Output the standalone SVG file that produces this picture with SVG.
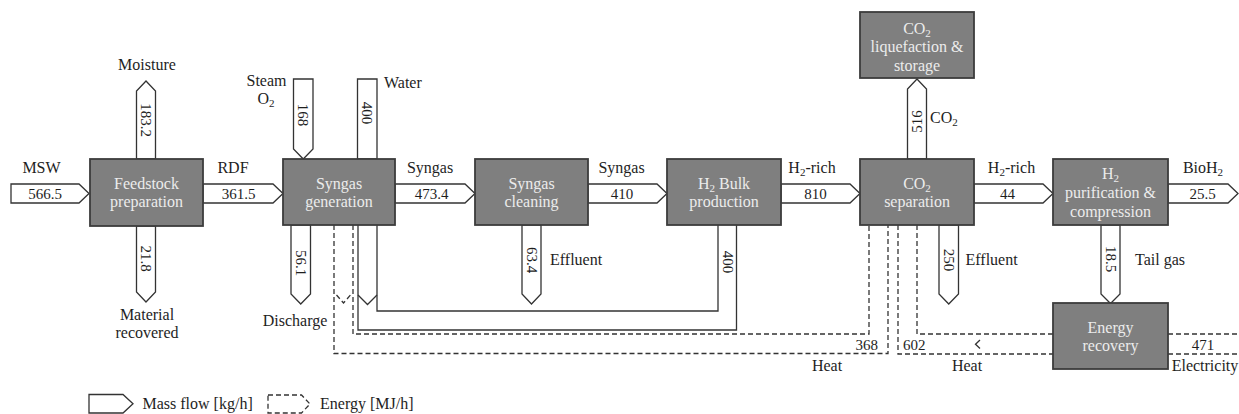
<svg xmlns="http://www.w3.org/2000/svg" width="1239" height="414" viewBox="0 0 1239 414">
<style>
text{font-family:"Liberation Serif","Times New Roman",serif;fill:#1e1e1e}
.lb{font-size:16px}
.nm{font-size:15px}
.bx rect{fill:#7f7f7f;stroke:#3c3c3c;stroke-width:1.8}
.bx text{font-size:16px;fill:#ececec;text-anchor:middle}
.m{text-anchor:middle}
.ar{fill:#fff;stroke:#333;stroke-width:1.3;stroke-linejoin:miter}
.ln{fill:none;stroke:#333;stroke-width:1.3}
.ds{fill:none;stroke:#333;stroke-width:1.3;stroke-dasharray:5 3}
.sub{font-size:11px}
</style>
<rect width="1239" height="414" fill="#fff"/>
<g id="connectors">
<!-- horizontal mass flows -->
<polygon class="ar" points="11,184 79,184 89,193.5 79,203 11,203"/>
<polygon class="ar" points="203,184 273,184 283,193.5 273,203 203,203"/>
<polygon class="ar" points="395,184 465,184 475,193.5 465,203 395,203"/>
<polygon class="ar" points="588,184 657,184 667,193.5 657,203 588,203"/>
<polygon class="ar" points="781,184 850,184 860,193.5 850,203 781,203"/>
<polygon class="ar" points="974,184 1043,184 1053,193.5 1043,203 974,203"/>
<polygon class="ar" points="1168,184 1228,184 1238,193.5 1228,203 1168,203"/>
<!-- vertical mass flows -->
<polygon class="ar" points="136.5,159 136.5,91 146,81 155.5,91 155.5,159"/>
<polygon class="ar" points="136.5,226 136.5,292 146,302 155.5,292 155.5,226"/>
<polygon class="ar" points="293.5,79 313,79 313,149 303.25,159 293.5,149"/>
<polygon class="ar" points="357.5,79 377,79 377,159 357.5,159"/>
<polygon class="ar" points="291,225 310.5,225 310.5,294 300.75,304 291,294"/>
<polygon class="ar" points="522,225 541,225 541,294 531.5,304 522,294"/>
<polygon class="ar" points="939,225 958.5,225 958.5,294 948.75,304 939,294"/>
<polygon class="ar" points="1101,225 1120,225 1120,294 1110.5,303.5 1101,294"/>
<polygon class="ar" points="907.5,159 907.5,89 917,79 926.5,89 926.5,159"/>
<!-- water recycle loop -->
<path class="ln" d="M358,225 V330 H736.5 V225"/>
<path class="ln" d="M377,225 V311 H718 V225"/>
<path class="ln" d="M358,295 L367.5,304.5 L377,295"/>
<!-- heat loops -->
<path class="ds" d="M334,225 V353.5 H888 V225"/>
<path class="ds" d="M353,225 V334 H869 V225"/>
<path class="ds" d="M336.5,295 L343.5,303 L350.5,295"/>
<path class="ds" d="M898,225 V354 H1053"/>
<path class="ds" d="M917,225 V334 H1053"/>
<path class="ln" d="M980,340 L975.5,344.2 L980,348.5" stroke-width="1.1"/>
<path class="ds" d="M1168,334 H1239 M1168,354 H1239"/>
</g>
<g id="flow-labels">
<text class="lb m" x="41.5" y="173">MSW</text>
<text class="nm m" x="45" y="198.5">566.5</text>
<text class="lb m" x="233" y="173">RDF</text>
<text class="nm m" x="238.5" y="198.5">361.5</text>
<text class="lb m" x="430" y="173">Syngas</text>
<text class="nm m" x="431.5" y="198.5">473.4</text>
<text class="lb m" x="621.5" y="173">Syngas</text>
<text class="nm m" x="622" y="198.5">410</text>
<text class="lb m" x="812" y="173">H<tspan class="sub" dy="3">2</tspan><tspan dy="-3">-rich</tspan></text>
<text class="nm m" x="815.5" y="198.5">810</text>
<text class="lb m" x="1011.5" y="173">H<tspan class="sub" dy="3">2</tspan><tspan dy="-3">-rich</tspan></text>
<text class="nm m" x="1007.5" y="198.5">44</text>
<text class="lb m" x="1203" y="173">BioH<tspan class="sub" dy="3">2</tspan></text>
<text class="nm m" x="1202.5" y="198.5">25.5</text>
<text class="lb m" x="147" y="70">Moisture</text>
<text class="lb m" x="147" y="320">Material</text>
<text class="lb m" x="147" y="338">recovered</text>
<text class="lb m" x="266.5" y="86">Steam</text>
<text class="lb m" x="266" y="104">O<tspan class="sub" dy="3">2</tspan></text>
<text class="lb" x="384" y="88">Water</text>
<text class="lb m" x="295" y="326">Discharge</text>
<text class="lb" x="550" y="265">Effluent</text>
<text class="lb" x="965.5" y="265">Effluent</text>
<text class="lb" x="1135" y="265">Tail gas</text>
<text class="lb" x="930" y="123">CO<tspan class="sub" dy="3">2</tspan></text>
<text class="nm" x="878" y="349.5" text-anchor="end">368</text>
<text class="lb m" x="827" y="371">Heat</text>
<text class="nm" x="903" y="349.5">602</text>
<text class="lb m" x="967" y="371">Heat</text>
<text class="nm m" x="1203" y="349.5">471</text>
<text class="lb m" x="1205" y="371">Electricity</text>
<text class="nm m" transform="translate(146,120) rotate(90)" x="0" y="5">183.2</text>
<text class="nm m" transform="translate(146,258.5) rotate(90)" x="0" y="5">21.8</text>
<text class="nm m" transform="translate(303.25,115) rotate(90)" x="0" y="5">168</text>
<text class="nm m" transform="translate(367.25,113) rotate(90)" x="0" y="5">400</text>
<text class="nm m" transform="translate(300.75,263) rotate(90)" x="0" y="5">56.1</text>
<text class="nm m" transform="translate(531.5,260) rotate(90)" x="0" y="5">63.4</text>
<text class="nm m" transform="translate(727.5,262) rotate(90)" x="0" y="5">400</text>
<text class="nm m" transform="translate(948.75,260) rotate(90)" x="0" y="5">250</text>
<text class="nm m" transform="translate(1110.5,259) rotate(90)" x="0" y="5">18.5</text>
<text class="nm m" transform="translate(917,121.5) rotate(-90)" x="0" y="5">516</text>
</g>
<g id="feedstock" class="bx"><rect x="90" y="159" width="113" height="67"/><text x="146.5" y="188.5">Feedstock</text><text x="146.5" y="207">preparation</text></g>
<g id="syngas-generation" class="bx"><rect x="283" y="159" width="112" height="66"/><text x="339" y="188.5">Syngas</text><text x="339" y="207">generation</text></g>
<g id="syngas-cleaning" class="bx"><rect x="475" y="159" width="113" height="66"/><text x="531.5" y="188.5">Syngas</text><text x="531.5" y="207">cleaning</text></g>
<g id="h2-bulk" class="bx"><rect x="667" y="159" width="114" height="66"/><text x="724" y="188.5">H<tspan class="sub" dy="3">2</tspan><tspan dy="-3"> Bulk</tspan></text><text x="724" y="207">production</text></g>
<g id="co2-separation" class="bx"><rect x="860" y="159" width="114" height="66"/><text x="917" y="188.5">CO<tspan class="sub" dy="3">2</tspan></text><text x="917" y="207">separation</text></g>
<g id="h2-purification" class="bx"><rect x="1053" y="159" width="115" height="66"/><text x="1110.5" y="178.5">H<tspan class="sub" dy="3">2</tspan></text><text x="1110.5" y="197.5">purification &amp;</text><text x="1110.5" y="216.5">compression</text></g>
<g id="co2-liquefaction" class="bx"><rect x="860" y="12" width="114" height="66"/><text x="917" y="33.5">CO<tspan class="sub" dy="3">2</tspan></text><text x="917" y="52">liquefaction &amp;</text><text x="917" y="70.5">storage</text></g>
<g id="energy-recovery" class="bx"><rect x="1053" y="303" width="115" height="66"/><text x="1110.5" y="332.5">Energy</text><text x="1110.5" y="351">recovery</text></g>
<g id="legend">
<polygon class="ar" points="89,394.5 123,394.5 133,403.75 123,413 89,413"/>
<text class="lb" x="142.5" y="408.5">Mass flow [kg/h]</text>
<polygon class="ds" points="268,395 301.5,395 310,404 301.5,413 268,413"/>
<text class="lb" x="320" y="408.5">Energy [MJ/h]</text>
</g>
</svg>
